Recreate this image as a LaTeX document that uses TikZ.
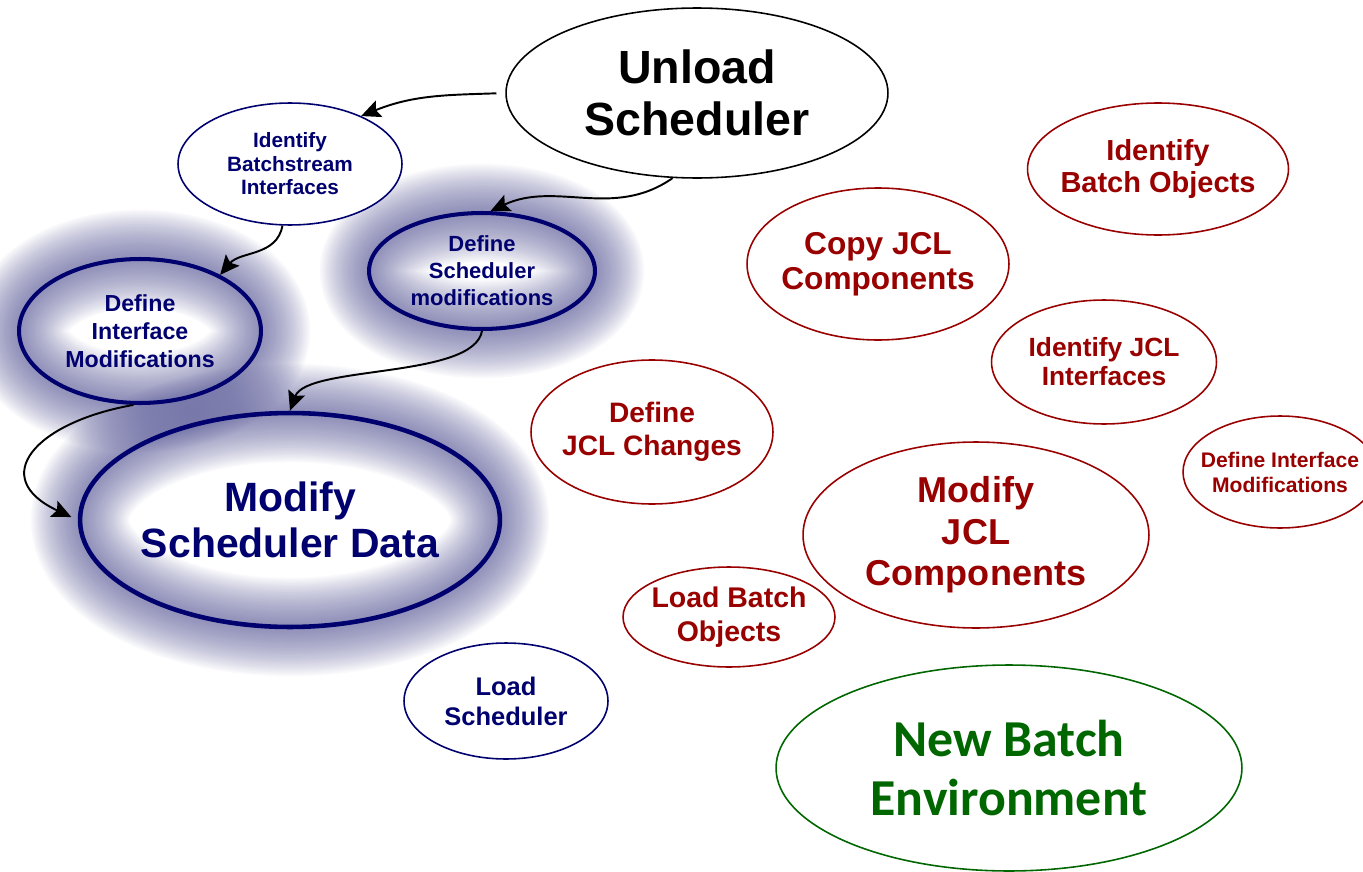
\documentclass[tikz,border=0pt]{standalone}
\usepackage{fontspec}
\setmainfont{Liberation Sans}
\newfontfamily\calibfont{Carlito}
\usetikzlibrary{shapes.geometric,arrows.meta,backgrounds}
\definecolor{navy}{RGB}{0,0,110}
\definecolor{darkred}{RGB}{153,0,0}
\definecolor{leaf}{RGB}{0,102,0}
\definecolor{hazecol}{RGB}{80,80,145}
\begin{document}
\begin{tikzpicture}[x=0.02cm,y=-0.02cm,
    bub/.style={ellipse,draw,fill=white,line width=0.9pt,inner sep=-12pt,align=center},
    glow node/.style={ellipse,draw=navy,line width=2.3pt,inner sep=-12pt,align=center,text=navy},
    navy node/.style={bub,draw=navy,text=navy},
    red node/.style={bub,draw=darkred,text=darkred},
    sz/.style 2 args={minimum width=#1cm,minimum height=#2cm},
    fs/.style 2 args={font=\bfseries\fontsize{#1}{#2}\selectfont},
    halo/.style={draw=hazecol,opacity=0.035},
    flow/.style={line width=1.1pt,-{Stealth[length=11pt,width=10pt,inset=2pt]}}]
    \useasboundingbox (0,0) rectangle (1363,872);

    \node[bub,sz={7.64}{3.40},fs={26.5}{30}] at (697,93) (unload) {Unload\\Scheduler};
    \node[navy node,sz={4.48}{2.44},fs={11.8}{13.4}] at (290,164) (ibi) {Identify\\Batchstream\\Interfaces};
    \node[glow node,sz={4.52}{2.32},fs={12.5}{15.4}] at (482,271) (dsm) {Define\\Scheduler\\modifications};
    \node[glow node,sz={4.84}{2.88},fs={13.2}{15.9}] at (140,331) (dim) {Define\\Interface\\Modifications};
    \node[glow node,line width=2.6pt,sz={8.40}{4.28},fs={23.3}{26}] at (290,520) (msd) {Modify\\Scheduler Data};
    \node[navy node,sz={4.08}{2.32},fs={14.5}{17}] at (506,701) (lsch) {Load\\Scheduler};

    \node[red node,sz={5.22}{2.64},fs={16.5}{18.2}] at (1158,169) (ibo) {Identify\\Batch Objects};
    \node[red node,sz={5.24}{3.04},fs={18}{20}] at (878,264) (cjc) {Copy JCL\\Components};
    \node[red node,sz={4.50}{2.48},fs={15}{16.5}] at (1104,362) (iji) {Identify JCL\\Interfaces};
    \node[red node,sz={4.84}{2.88},fs={16}{18.5}] at (652,432) (djc) {Define\\JCL Changes};
    \node[red node,sz={3.88}{2.24},fs={12}{14.2}] at (1280,472) (dim2) {Define Interface\\Modifications};
    \node[red node,sz={6.92}{3.72},fs={20.5}{23.6}] at (976,535) (mjc) {Modify\\JCL\\Components};
    \node[red node,sz={4.24}{2.00},fs={16.2}{19}] at (729,617) (lbo) {Load Batch\\Objects};
    \node[bub,draw=leaf,text=leaf,sz={9.32}{4.12},font=\calibfont\bfseries\fontsize{29.5}{33.6}\selectfont] at (1009,768) (nbe) {New Batch\\Environment};

    % soft glow behind the scheduler steps
    \begin{scope}[on background layer]
        \foreach \n/\rx/\ry in {dsm/2.26/1.16, dim/2.42/1.44, msd/4.20/2.14}
            \foreach \w in {2,4,...,56}
                \draw[halo,line width=\w pt] (\n.center) ellipse [x radius=\rx cm, y radius=\ry cm];
    \end{scope}

    \draw[flow,shorten <=5pt] (unload.west) to[out=182,in=22] (ibi.34);
    \draw[flow] (unload.254) to[out=215,in=25] (dsm.82);
    \draw[flow] (ibi.263) to[out=260,in=50] (dim.35);
    \draw[flow] (dsm.270) to[out=260,in=70,looseness=0.6] (msd.90);
    \draw[flow,shorten >=4pt] (dim.265) to[out=190,in=155,looseness=2] (msd.west);
\end{tikzpicture}
\end{document}
